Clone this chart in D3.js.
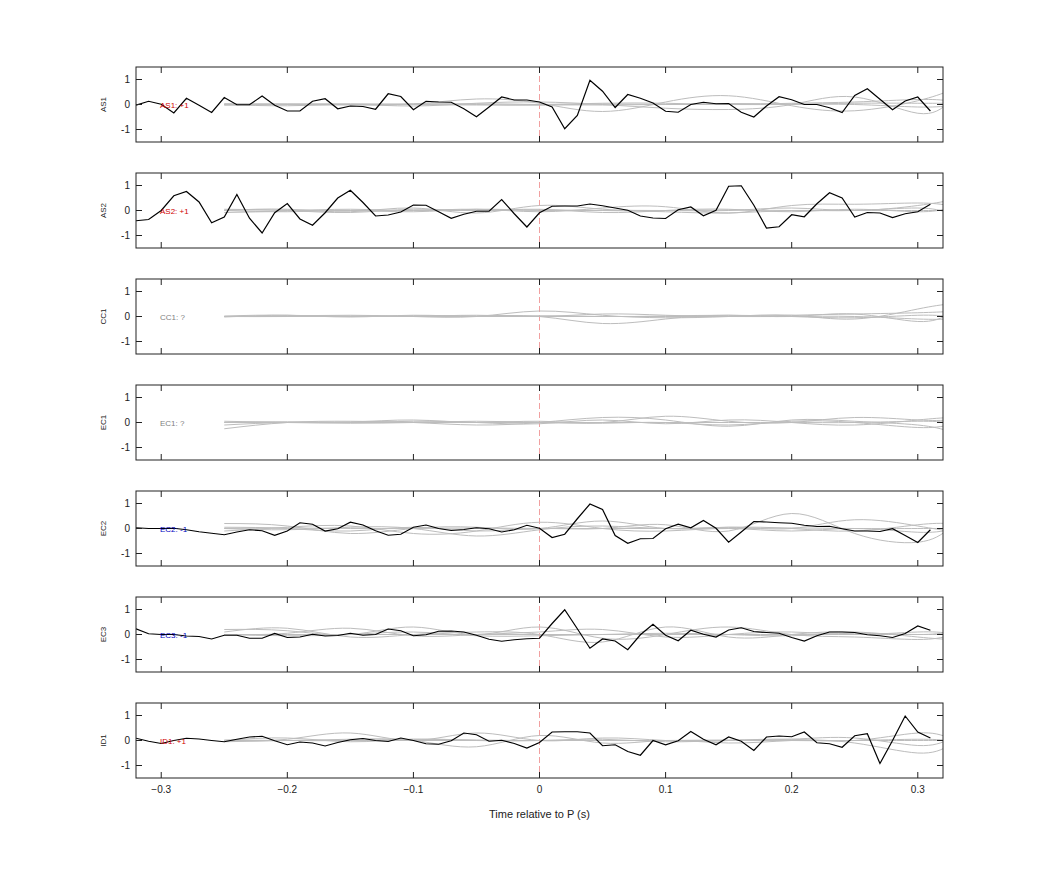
<!DOCTYPE html>
<html>
<head>
<meta charset="utf-8">
<script src="https://cdn.jsdelivr.net/npm/d3@7"></script>
<style>
  body { margin: 0; background: #fff; font-family: "Liberation Sans", Arial, sans-serif; }
</style>
</head>
<body>
<svg id="chart" width="1042" height="875"></svg>
<script>
// Panels, labels and their polarity
const channels = ["AS1", "AS2", "CC1", "EC1", "EC2", "EC3", "ID1"];
const polarity = ["+1", "+1", "?", "?", "-1", "-1", "+1"];

// Black trace samples, every 0.01 s from -0.32 to 0.31
const blackStart = -0.32, blackStep = 0.01;
const blackAS1 = [-0.03,0.13,0.01,-0.34,0.25,-0.03,-0.32,0.28,-0.01,-0.01,0.34,-0.03,-0.26,-0.26,0.13,0.23,-0.17,-0.06,-0.08,-0.19,0.43,0.32,-0.21,0.13,0.10,0.09,-0.17,-0.49,-0.10,0.30,0.18,0.18,0.10,-0.10,-0.97,-0.44,0.97,0.53,-0.12,0.40,0.25,0.06,-0.27,-0.31,0,0.09,0.03,0.04,-0.31,-0.50,-0.06,0.31,0.19,0,0,-0.13,-0.32,0.36,0.63,0.21,-0.21,0.14,0.30,-0.26];
const blackAS2 = [-0.41,-0.36,0,0.59,0.76,0.34,-0.49,-0.26,0.64,-0.31,-0.90,-0.09,0.28,-0.34,-0.59,-0.09,0.50,0.81,0.32,-0.22,-0.18,-0.06,0.22,0.21,-0.05,-0.31,-0.15,-0.03,-0.03,0.44,-0.13,-0.66,-0.09,0.17,0.18,0.18,0.26,0.19,0.10,0.01,-0.22,-0.30,-0.32,0.03,0.14,-0.21,0.01,0.97,0.99,0.21,-0.70,-0.65,-0.17,-0.25,0.27,0.71,0.50,-0.26,-0.08,-0.10,-0.28,-0.13,-0.05,0.25];
const blackCC1 = [];
const blackEC1 = [];
const blackEC2 = [0.03,0,0,0.01,-0.05,-0.13,-0.19,-0.25,-0.14,-0.05,-0.09,-0.27,-0.10,0.23,0.17,-0.10,-0.01,0.25,0.14,-0.09,-0.27,-0.23,0.05,0.14,0,-0.08,-0.04,0.03,-0.01,-0.14,-0.05,0.13,0.01,-0.36,-0.23,0.39,0.98,0.76,-0.28,-0.59,-0.41,-0.40,-0.01,0.17,0.03,0.32,0.01,-0.55,-0.14,0.28,0.26,0.23,0.21,0.13,0.08,0.09,-0.01,-0.10,-0.10,-0.12,-0.01,-0.28,-0.56,-0.05];
const blackEC3 = [0.23,0.03,0,0,-0.06,-0.08,-0.18,-0.03,-0.03,-0.15,-0.15,0.04,-0.12,-0.10,0.01,-0.06,-0.04,0.05,-0.03,0,0.22,0.15,-0.05,-0.01,0.13,0.14,0.10,-0.03,-0.19,-0.27,-0.21,-0.17,-0.15,0.44,0.99,0.23,-0.55,-0.18,-0.26,-0.61,-0.01,0.41,-0.03,-0.25,0.17,0.01,-0.10,0.18,0.27,0.12,0.08,0.05,-0.12,-0.26,-0.05,0.10,0.10,0.08,-0.01,-0.05,-0.12,0.04,0.34,0.17];
const blackID1 = [0.09,-0.03,-0.12,0,0.09,0.06,0,-0.05,0.05,0.14,0.17,-0.01,-0.17,-0.06,-0.10,-0.22,-0.08,0.03,0.08,0,-0.04,0.10,0,-0.13,-0.15,-0.01,0.30,0.23,-0.03,0.01,-0.12,-0.30,-0.08,0.34,0.35,0.35,0.30,-0.21,-0.17,-0.44,-0.59,0,-0.17,-0.01,0.36,0.05,-0.17,0.14,-0.03,-0.40,0.14,0.18,0.15,0.34,-0.09,-0.13,-0.27,0.19,0.27,-0.92,0,0.98,0.34,0.10];
const blackSeries = [blackAS1, blackAS2, blackCC1, blackEC1, blackEC2, blackEC3, blackID1];

// Grey reference traces: knots every 0.05 s from -0.25 to 0.30, then 0.325
const greyTimes = [-0.25,-0.2,-0.15,-0.1,-0.05,0,0.05,0.1,0.15,0.2,0.25,0.3,0.325];
const greyAS1 = [
  [0.02,0.02,0.0,0.02,0.22,0.05,-0.28,0.1,0.35,-0.05,-0.25,0.15,0.55],
  [0.0,-0.05,0.0,-0.06,0.05,0.1,0.0,-0.15,-0.2,0.0,0.3,-0.35,0.1],
  [0.03,0.0,0.03,0.0,-0.02,0.0,0.05,0.05,0.0,0.05,0.1,0.2,0.15],
  [-0.03,0.0,-0.02,0.03,0.0,-0.03,0.02,0.0,0.04,0.02,0.05,0.05,0.05],
  [0.0,0.02,0.0,0.0,0.03,0.0,-0.02,0.0,0.0,0.0,0.0,-0.1,-0.05]
];
const greyAS2 = [
  [0.0,0.05,-0.05,0.1,-0.1,0.2,0.05,0.0,0.0,0.1,0.0,0.2,0.4],
  [-0.08,-0.02,0.05,0.0,0.05,-0.05,0.1,0.15,-0.1,0.2,0.25,0.3,0.2],
  [0.05,0.0,-0.08,0.05,0.0,0.05,-0.08,0.0,0.05,-0.05,0.05,-0.05,0.1],
  [0.0,-0.05,0.0,-0.05,0.05,0.0,0.0,-0.05,-0.1,0.0,0.0,0.1,-0.1],
  [0.02,0.02,0.0,0.0,0.0,0.02,0.0,0.0,0.02,0.0,0.0,0.0,0.0]
];
const greyCC1 = [
  [0.0,0.02,0.05,0.0,0.0,0.22,0.05,-0.05,0.0,0.05,-0.1,0.3,0.5],
  [-0.02,0.05,0.0,0.03,0.02,0.0,-0.28,-0.1,0.05,0.0,0.1,-0.2,0.1],
  [0.0,0.0,0.02,0.0,0.05,0.0,0.1,0.05,0.0,0.05,0.1,0.15,0.2],
  [0.02,0.05,-0.02,0.05,0.0,0.03,0.0,0.02,0.05,0.0,-0.05,0.05,0.0],
  [0.0,0.0,0.0,0.0,0.0,0.0,0.0,0.0,0.0,0.0,0.0,-0.1,-0.1]
];
const greyEC1 = [
  [-0.25,0.0,0.05,0.0,-0.1,0.0,0.2,0.1,-0.15,0.1,0.05,-0.1,-0.35],
  [-0.1,0.0,0.02,0.1,0.0,0.05,0.0,0.25,0.05,0.0,0.2,0.1,0.1],
  [0.0,0.03,0.0,0.05,0.0,-0.05,0.1,-0.05,0.1,0.0,-0.1,0.1,0.2],
  [0.05,0.0,-0.03,0.0,0.05,0.0,-0.03,0.0,-0.1,0.05,0.0,-0.2,-0.1],
  [0.0,0.0,0.0,0.0,0.0,0.0,0.0,0.0,0.0,0.0,0.0,0.05,0.0]
];
const greyEC2 = [
  [0.05,0.0,-0.1,0.05,-0.1,0.0,0.0,0.15,-0.1,0.6,-0.2,-0.55,0.0],
  [0.2,0.1,-0.2,0.0,0.05,0.0,0.3,0.0,0.05,0.0,0.35,0.1,-0.1],
  [-0.1,0.05,0.1,-0.2,-0.1,0.25,0.0,-0.1,0.0,-0.1,0.0,-0.15,-0.05],
  [0.0,-0.05,0.05,0.0,-0.3,-0.05,0.1,0.0,0.05,0.0,-0.1,0.15,0.2],
  [0.0,0.02,0.0,0.0,0.02,0.0,0.0,0.0,0.0,0.02,0.0,0.0,0.0]
];
const greyEC3 = [
  [0.2,0.15,0.0,0.3,0.0,0.3,-0.15,0.0,0.3,0.0,-0.1,-0.2,-0.05],
  [0.1,0.25,-0.1,0.0,0.1,0.0,-0.3,0.3,-0.1,0.0,0.1,-0.1,-0.2],
  [0.0,0.05,0.25,-0.05,0.0,0.1,0.2,-0.1,0.0,0.1,0.0,0.1,0.05],
  [0.0,-0.05,0.0,0.1,-0.05,-0.05,0.0,0.05,0.0,-0.05,0.05,0.0,0.1],
  [0.0,0.0,0.0,0.0,0.0,0.0,0.0,0.0,0.0,0.0,0.0,0.0,0.0]
];
const greyID1 = [
  [0.0,0.05,0.3,0.0,0.3,0.0,0.1,0.0,0.0,0.05,0.0,0.3,0.1],
  [-0.05,0.0,0.05,0.0,-0.25,0.2,-0.1,0.0,-0.1,0.0,-0.1,-0.5,-0.2],
  [0.0,0.1,-0.05,0.05,0.0,0.0,0.05,-0.05,0.0,0.05,0.1,-0.2,0.05],
  [0.02,0.0,0.0,0.05,0.02,0.0,0.0,0.0,0.02,0.0,0.0,0.05,0.0],
  [0.0,0.0,0.0,0.0,0.0,0.0,0.0,0.0,0.0,0.0,0.0,0.0,0.0]
];
const greySeries = [greyAS1, greyAS2, greyCC1, greyEC1, greyEC2, greyEC3, greyID1];

const xTicks = [-0.3, -0.2, -0.1, 0, 0.1, 0.2, 0.3];
const yTicks = [-1, 0, 1];

const svg = d3.select("#chart");
const left = 136, right = 943, top0 = 67, panelH = 75, gap = 106;

const x = d3.scaleLinear().domain([-0.32, 0.32]).range([left, right]);
const labelColor = { "+1": "#d00000", "-1": "#0000c0", "?": "#808080" };

channels.forEach(function(ch, i) {
  const top = top0 + gap * i;
  const y = d3.scaleLinear().domain([-1.5, 1.5]).range([top + panelH, top]);
  const g = svg.append("g");

  const clipId = "clip" + i;
  svg.append("clipPath").attr("id", clipId).append("rect")
    .attr("x", left).attr("y", top).attr("width", right - left).attr("height", panelH);

  // zero marker
  g.append("line")
    .attr("x1", x(0)).attr("x2", x(0)).attr("y1", top).attr("y2", top + panelH)
    .attr("stroke", "#e88").attr("stroke-width", 0.8).attr("stroke-dasharray", "6,3");

  const plot = g.append("g").attr("clip-path", "url(#" + clipId + ")");

  const greyLine = d3.line().x(function(d, j) { return x(greyTimes[j]); })
    .y(function(d) { return y(d); }).curve(d3.curveNatural);
  greySeries[i].forEach(function(vals) {
    plot.append("path").attr("d", greyLine(vals))
      .attr("fill", "none").attr("stroke", "#bdbdbd").attr("stroke-width", 1);
  });

  if (blackSeries[i].length) {
    const blackLine = d3.line().x(function(d, j) { return x(blackStart + j * blackStep); })
      .y(function(d) { return y(d); });
    plot.append("path").attr("d", blackLine(blackSeries[i]))
      .attr("fill", "none").attr("stroke", "#000").attr("stroke-width", 1.2);
  }

  // label inside
  g.append("text").attr("x", x(-0.301)).attr("y", y(0) + 3)
    .attr("font-size", 8).attr("fill", labelColor[polarity[i]])
    .text(ch + ": " + polarity[i]);

  // box
  g.append("rect").attr("x", left).attr("y", top).attr("width", right - left).attr("height", panelH)
    .attr("fill", "none").attr("stroke", "#222").attr("stroke-width", 1);

  // inward ticks
  xTicks.forEach(function(t) {
    g.append("line").attr("x1", x(t)).attr("x2", x(t)).attr("y1", top + panelH).attr("y2", top + panelH - 6).attr("stroke", "#222");
    g.append("line").attr("x1", x(t)).attr("x2", x(t)).attr("y1", top).attr("y2", top + 6).attr("stroke", "#222");
  });
  yTicks.forEach(function(t) {
    g.append("line").attr("x1", left).attr("x2", left + 6).attr("y1", y(t)).attr("y2", y(t)).attr("stroke", "#222");
    g.append("line").attr("x1", right).attr("x2", right - 6).attr("y1", y(t)).attr("y2", y(t)).attr("stroke", "#222");
    g.append("text").attr("x", left - 6).attr("y", y(t) + 3.5).attr("text-anchor", "end")
      .attr("font-size", 10).attr("fill", "#222").text(t);
  });

  g.append("text").attr("transform", "translate(" + (left - 30) + "," + y(0) + ") rotate(-90)")
    .attr("text-anchor", "middle").attr("font-size", 8).attr("fill", "#222").text(ch);

  if (i === channels.length - 1) {
    xTicks.forEach(function(t) {
      g.append("text").attr("x", x(t)).attr("y", top + panelH + 15).attr("text-anchor", "middle")
        .attr("font-size", 10).attr("fill", "#222").text(t === 0 ? "0" : d3.format("")(t));
    });
    g.append("text").attr("x", (left + right) / 2).attr("y", top + panelH + 40).attr("text-anchor", "middle")
      .attr("font-size", 11).attr("fill", "#222").text("Time relative to P (s)");
  }
});
</script>
</body>
</html>
